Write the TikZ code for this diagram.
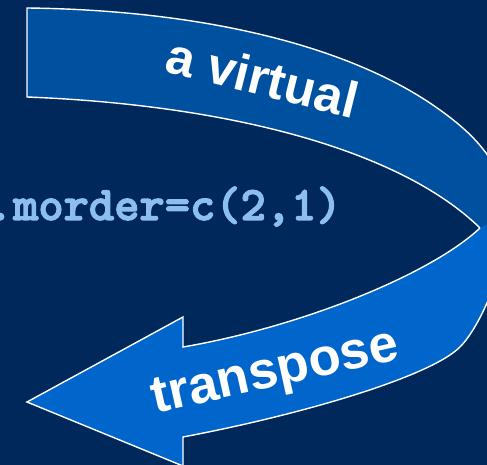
\documentclass[tikz,border=0pt]{standalone}
\usepackage{fontspec}
\usepackage{tikz}
\usetikzlibrary{calc}
\setsansfont{Liberation Sans}
\newfontfamily\codefont{lmmonolt10-bold.otf}[FakeBold=2.5]
\definecolor{slidebg}{RGB}{0,40,90}
\definecolor{backband}{RGB}{0,80,160}
\definecolor{frontband}{RGB}{0,102,204}
\definecolor{codeblue}{RGB}{140,190,240}
\tikzset{rim/.style={draw=white, line width=0.8pt}}
\tikzset{bandtext/.style={inner sep=0pt, text=white, font=\sffamily\bfseries\fontsize{29}{35}\selectfont}}
\tikzset{codetext/.style={inner sep=0pt, text=codeblue, font=\codefont\fontsize{27.4}{33}\selectfont}}

\begin{document}
\begin{tikzpicture}[x=0.02cm, y=-0.02cm]
    \fill[slidebg] (0,0) rectangle (487,465);
    \useasboundingbox (0,0) rectangle (487,465);
    \clip (0,0) rectangle (487,465);

    \node[codetext, anchor=base west] (cmd) at (-12.5,220) {.morder=c(2,1)};

    \coordinate (tailtop) at (27,8);
    \coordinate (tailbot) at (27,97);
    \coordinate (inner) at (480,228);
    \coordinate (outer) at (508,214);
    \coordinate (necktop) at (183,347);
    \coordinate (neckbot) at (183,437);
    \coordinate (barbtop) at (183,317);
    \coordinate (barbbot) at (183,466);
    \coordinate (tip) at (27,402);

    \filldraw[rim, fill=backband]
    (inner) .. controls (400,150) and (230,105) .. (tailbot)
    -- (tailtop)
    .. controls (200,10) and (350,45) .. (440,110)
    .. controls (475,135) and (505,165) .. (outer);

    \filldraw[rim, fill=frontband]
    (outer) .. controls (508,265) and (480,327) .. (460,347)
    .. controls (430,377) and (300,415) .. (neckbot)
    -- (barbbot) -- (tip) -- (barbtop) -- (necktop)
    .. controls (300,327) and (430,275) .. (inner);

    \node[bandtext, rotate=-14, anchor=base] (virt) at (258,95) {a virtual};
    \node[bandtext, rotate=12.5, anchor=base, font=\sffamily\bfseries\fontsize{30}{36}\selectfont] (trans) at (278,386) {transpose};
\end{tikzpicture}
\end{document}
